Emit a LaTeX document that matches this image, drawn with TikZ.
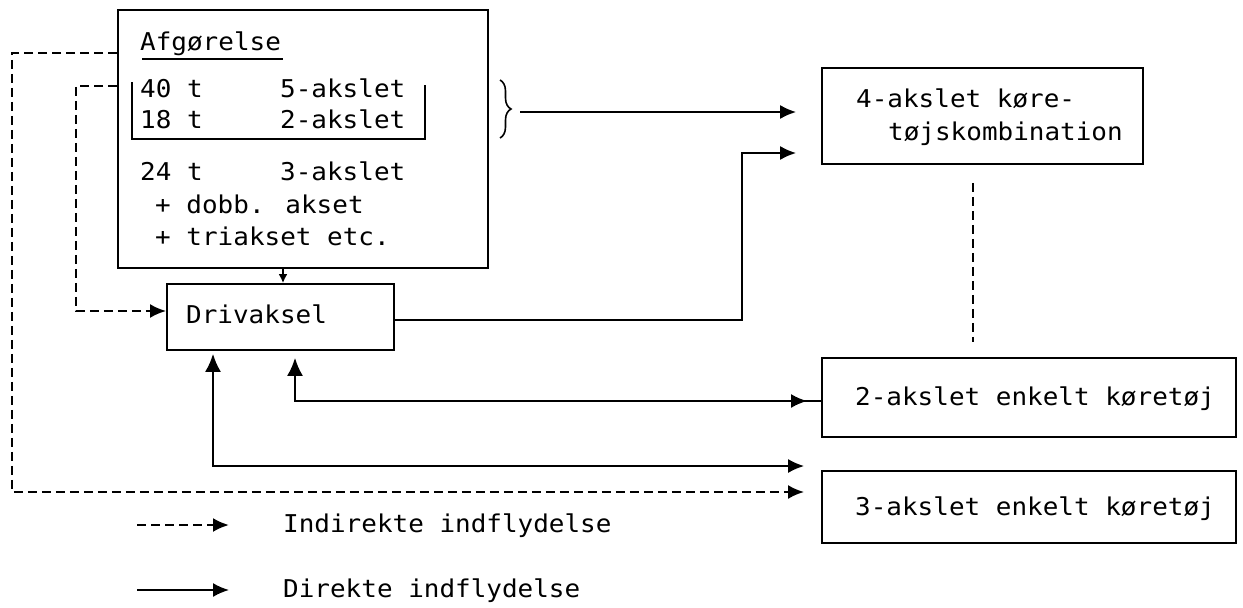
\documentclass[tikz,border=0pt]{standalone}
\usepackage{fontspec}
\newfontfamily\tw[FakeStretch=1.06]{DejaVu Sans Mono}
\usetikzlibrary{arrows.meta,decorations.pathreplacing}
\begin{document}
\begin{tikzpicture}[x=1pt,y=-1pt,
  box/.style={draw,line width=1.8pt,rectangle,inner sep=0pt},
  txt/.style={anchor=base west,inner sep=0pt,font={\tw\fontsize{24.5}{28}\selectfont}},
  sol/.style={line width=1.8pt},
  dsh/.style={line width=2.4pt,dash pattern=on 9pt off 5pt},
  tip/.style={-{Latex[length=16pt,width=14pt]}},
  bigtip/.style={{Latex[length=18pt,width=16pt]}-},
]
\useasboundingbox (0,0) rectangle (1243,608);

% boxes
\node[box,minimum width=370pt,minimum height=258pt] (afg) at (303,139) {};
\node[box,minimum width=227pt,minimum height=66pt] (drv) at (280.5,317) {};
\node[box,minimum width=321pt,minimum height=96pt] (k4) at (982.5,116) {};
\node[box,minimum width=414pt,minimum height=79pt] (k2) at (1029,397.5) {};
\node[box,minimum width=414pt,minimum height=72pt] (k3) at (1029,507) {};

% texts in Afgørelse
\node[txt] (t0) at (140,50) {Afgørelse};
\draw[sol] (142,59) -- (283,59);
\node[txt] (t1a) at (140,97) {40 t};
\node[txt] (t1b) at (280,97) {5-akslet};
\node[txt] (t2a) at (140,128) {18 t};
\node[txt] (t2b) at (280,128) {2-akslet};
\node[txt] (t3a) at (140,180) {24 t};
\node[txt] (t3b) at (280,180) {3-akslet};
\node[txt] (t4) at (155,213) {+ dobb. akset};
\node[txt] (t5) at (155,245) {+ triakset etc.};
\draw[sol] (132,82) -- (132,139) -- (425,139) -- (425,85);

% other texts
\node[txt] (td) at (186,323) {Drivaksel};
\node[txt] (t4a) at (856,107) {4-akslet køre-};
\node[txt] (t4b) at (888,140) {tøjskombination};
\node[txt] (t2k) at (855,405) {2-akslet enkelt køretøj};
\node[txt] (t3k) at (855,515) {3-akslet enkelt køretøj};

% brace and arrow
\draw[line width=1.6pt,decorate,decoration={brace,amplitude=11pt}] (500,80) -- (500,138);
\coordinate (br) at (520,112);
\draw[sol,tip,shorten >=25pt] (br) -- (k4.west |- br);

% Afgørelse -> Drivaksel
\draw[sol,-{Latex[length=9pt,width=9pt]}] (283,0 |- afg.south) -- (283,0 |- drv.north);

% Drivaksel -> 4-akslet
\draw[sol,tip,shorten >=25pt] (drv.east |- 0,320) -- (742,320) -- (742,153) -- (k4.west |- 0,153);

% Drivaksel <-> 2-akslet
\draw[sol,bigtip,shorten <=7pt] (295,0 |- drv.south) -- (295,401) -- (k2.west |- 0,401);
\coordinate (m2a) at (786,401);
\coordinate (m2b) at (807,401);
\draw[sol,tip] (m2a) -- (m2b);

% Drivaksel <-> 3-akslet
\draw[sol,{Latex[length=18pt,width=16pt]}-{Latex[length=16pt,width=14pt]},shorten <=3pt,shorten >=17pt]
  (213,0 |- drv.south) -- (213,466) -- (k3.west |- 0,466);

% dashed connectors
\draw[dsh,tip,shorten >=17pt] (afg.west |- 0,53) -- (12,53) -- (12,492) -- (k3.west |- 0,492);
\draw[dsh,tip] (afg.west |- 0,86) -- (76,86) -- (76,311) -- (drv.west |- 0,311);
\draw[dsh,shorten <=18pt,shorten >=15pt] (973,0 |- k4.south) -- (973,0 |- k2.north);

% legend
\coordinate (l1a) at (137,525);
\coordinate (l1b) at (229,525);
\coordinate (l2a) at (137,590);
\coordinate (l2b) at (229,590);
\draw[dsh,tip] (l1a) -- (l1b);
\draw[sol,tip] (l2a) -- (l2b);
\node[txt] (lt1) at (283,532) {Indirekte indflydelse};
\node[txt] (lt2) at (283,597) {Direkte indflydelse};
\end{tikzpicture}
\end{document}
